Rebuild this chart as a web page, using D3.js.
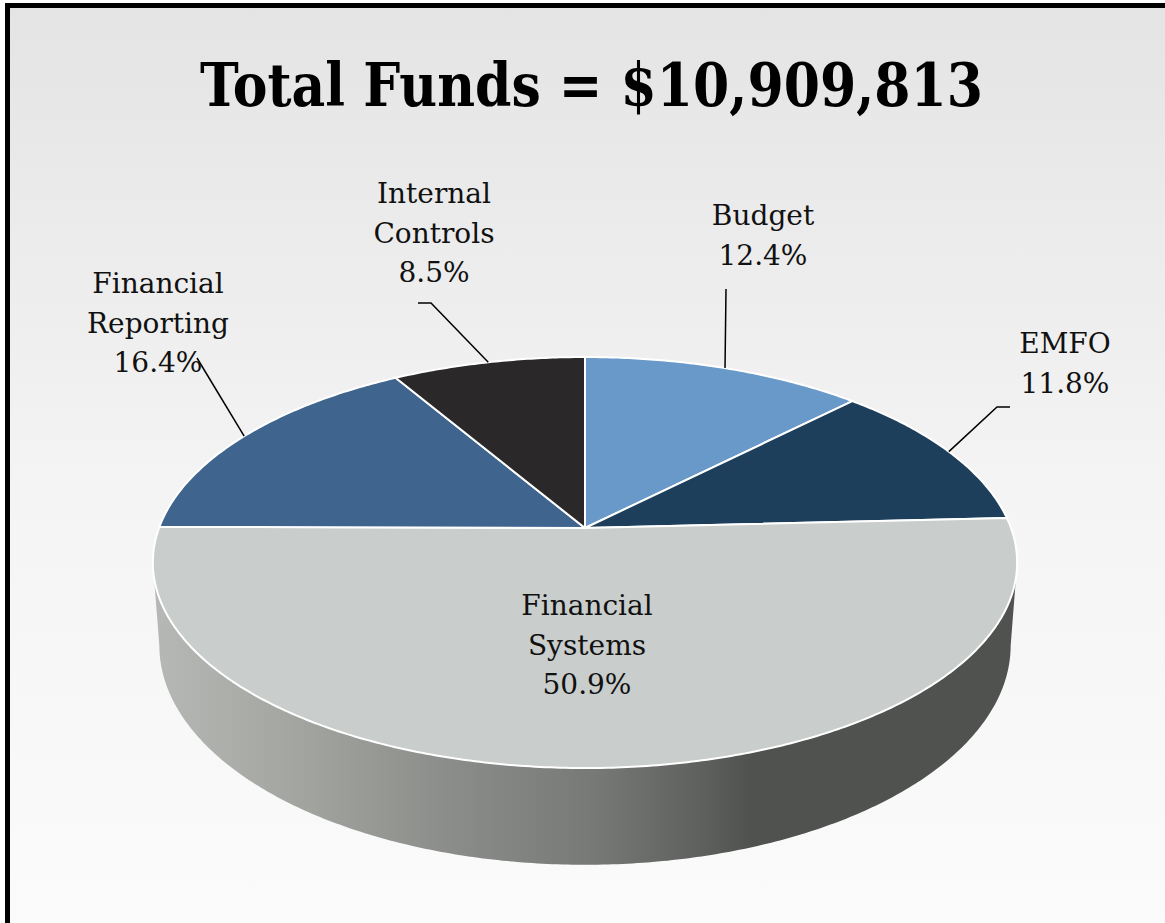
<!DOCTYPE html>
<html>
<head>
<meta charset="utf-8">
<script src="https://cdn.jsdelivr.net/npm/d3@7"></script>
<style>
  html, body { margin: 0; padding: 0; background: #fff; }
  svg { display: block; }
</style>
</head>
<body>
<svg id="chart" width="1165" height="923"></svg>
<script>
// slice data, clockwise from 12 o'clock
var categories = ["Budget", "EMFO", "Financial Systems", "Financial Reporting", "Internal Controls"];
var shares = [12.4, 11.8, 50.9, 16.4, 8.5];
var labelLines = [["Budget", "12.4%"], ["EMFO", "11.8%"], ["Financial", "Systems", "50.9%"],
                  ["Financial", "Reporting", "16.4%"], ["Internal", "Controls", "8.5%"]];
var titleText = "Total Funds = $10,909,813";

var colors = ["#6899c8", "#1e3f5c", "#c9cdcc", "#3f658f", "#2a2829"];

var svg = d3.select("#chart");
var W = 1165, H = 923;

// geometry of the tilted disc (perspective factor p)
var cx = 585, cy = 528, kx = 426, ky = 199.7, p = 0.168, depth = 80.5;

function proj(theta, bottom) {
  var u = Math.sin(theta), v = -Math.cos(theta);
  var s = 1 / (1 - p * v);
  var shrink = bottom ? 0.985 : 1;
  return [cx + kx * u * s * shrink, cy + ky * v * s + (bottom ? depth * s : 0)];
}

var defs = svg.append("defs");
var bg = defs.append("linearGradient").attr("id", "bg").attr("x1", 0).attr("y1", 0).attr("x2", 0).attr("y2", 1);
bg.append("stop").attr("offset", "0%").attr("stop-color", "#e4e4e4");
bg.append("stop").attr("offset", "55%").attr("stop-color", "#f5f5f5");
bg.append("stop").attr("offset", "100%").attr("stop-color", "#fbfbfb");

var sideGrad = defs.append("linearGradient").attr("id", "side")
  .attr("gradientUnits", "userSpaceOnUse").attr("x1", 155).attr("y1", 0).attr("x2", 1017).attr("y2", 0);
[[0, "#b6b8b5"], [0.18, "#a1a39f"], [0.34, "#8b8d8a"], [0.51, "#777976"], [0.64, "#5d5f5c"], [0.69, "#505250"], [1, "#505250"]]
  .forEach(function(s) { sideGrad.append("stop").attr("offset", s[0]).attr("stop-color", s[1]); });

// background + frame
svg.append("rect").attr("x", 7.5).attr("y", 5.5).attr("width", W + 20).attr("height", H + 20)
  .attr("fill", "url(#bg)").attr("stroke", "#000").attr("stroke-width", 5);

svg.append("text").attr("x", 591.5).attr("y", 106).attr("text-anchor", "middle")
  .attr("font-family", "'DejaVu Serif', serif").attr("font-weight", "bold").attr("font-size", 59)
  .attr("textLength", 783).attr("lengthAdjust", "spacingAndGlyphs")
  .attr("fill", "#000").text(titleText);

var pie = d3.pie().sort(null).value(function(d) { return d; });
var arcs = pie(shares);

function arcPoints(a0, a1, bottom) {
  var n = Math.max(8, Math.ceil((a1 - a0) / 0.01)), pts = [];
  for (var i = 0; i <= n; i++) pts.push(proj(a0 + (a1 - a0) * i / n, bottom));
  return pts;
}

// side wall: only the front half shows, that is the Financial Systems slice
var g = svg.append("g");
arcs.forEach(function(a, i) {
  var a0 = Math.max(a.startAngle, Math.PI / 2 + 0.17), a1 = Math.min(a.endAngle, 3 * Math.PI / 2 - 0.17);
  if (a1 <= a0) return;
  var pts = arcPoints(a0, a1, false).concat(arcPoints(a0, a1, true).reverse());
  g.append("path").attr("d", d3.line()(pts) + "Z").attr("fill", "url(#side)");
});

// top faces
arcs.forEach(function(a, i) {
  var pts = [[cx, cy]].concat(arcPoints(a.startAngle, a.endAngle, false));
  g.append("path").attr("d", d3.line()(pts) + "Z")
    .attr("fill", colors[i]).attr("stroke", "#fff").attr("stroke-width", 2).attr("stroke-linejoin", "round");
});

// labels and leader lines
var labelPos = {
  "Budget": { x: 763, y: 215, lead: [[726, 289]] },
  "EMFO": { x: 1065, y: 343, lead: [[1010, 407], [997, 407]] },
  "Financial Systems": { x: 587, y: 605 },
  "Financial Reporting": { x: 158, y: 283, lead: [[197, 358]] },
  "Internal Controls": { x: 434, y: 193, lead: [[418, 303], [431, 303]] }
};

arcs.forEach(function(a, i) {
  var lp = labelPos[categories[i]];
  if (lp.lead) {
    var mid = proj((a.startAngle + a.endAngle) / 2, false);
    g.append("path").attr("d", d3.line()(lp.lead.concat([mid])))
      .attr("fill", "none").attr("stroke", "#000").attr("stroke-width", 1.5);
  }
  var t = svg.append("text").attr("text-anchor", "middle")
    .attr("font-family", "'DejaVu Serif', serif").attr("font-size", 28).attr("fill", "#111");
  labelLines[i].forEach(function(line, j) {
    t.append("tspan").attr("x", lp.x).attr("y", lp.y + j * 39.5).attr("dy", "0.36em").text(line);
  });
});
</script>
</body>
</html>
